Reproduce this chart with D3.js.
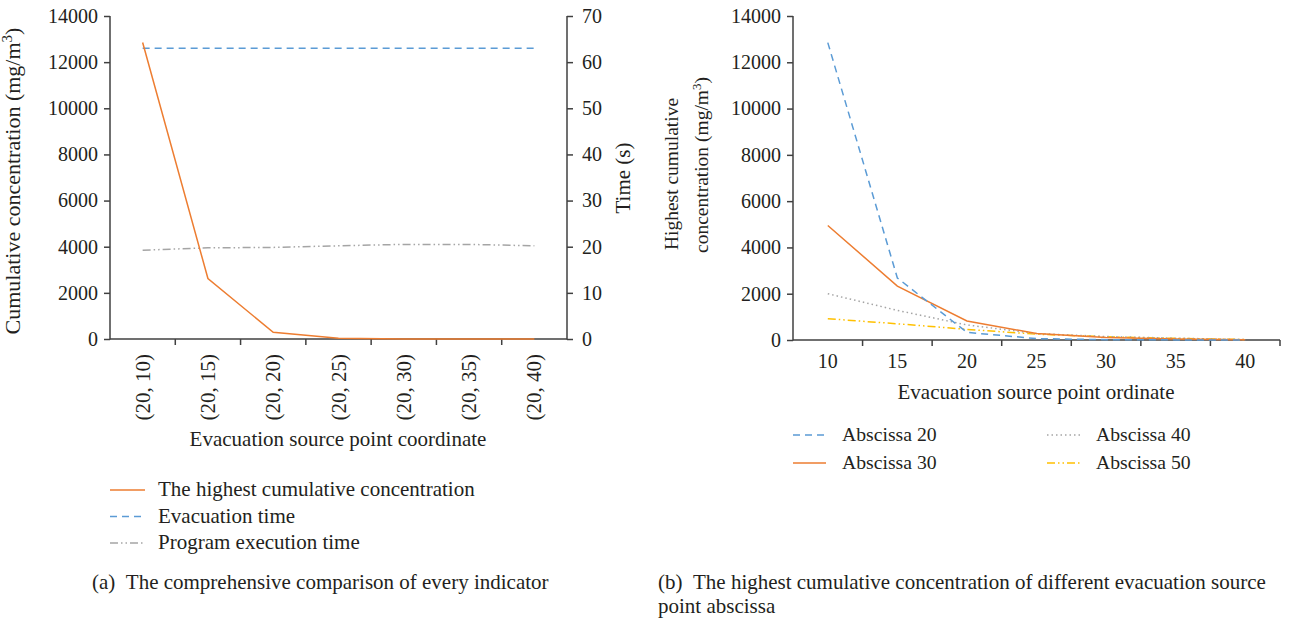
<!DOCTYPE html>
<html><head><meta charset="utf-8">
<script src="https://cdn.jsdelivr.net/npm/d3@7"></script>
<style>
body{margin:0;background:#fff;}
text{font-family:"Liberation Serif","Times New Roman",serif;fill:#231f20;}
</style></head>
<body><svg id="c" width="1290" height="620"></svg>
<script>
// ---- Data (a) ----
const coordCats = ["(20, 10)","(20, 15)","(20, 20)","(20, 25)","(20, 30)","(20, 35)","(20, 40)"];
const highestConc = [12850, 2620, 290, 30, 5, 0, 0];
const evacTime = [63, 63, 63, 63, 63, 63, 63];
const execTime = [19.25, 19.75, 19.85, 20.2, 20.5, 20.5, 20.2];
const leftTicksA = [0,2000,4000,6000,8000,10000,12000,14000];
const rightTicksA = [0,10,20,30,40,50,60,70];
// ---- Data (b) ----
const ordCats = ["10","15","20","25","30","35","40"];
const absc20 = [12850, 2680, 330, 60, 15, 5, 0];
const absc30 = [4950, 2330, 820, 280, 110, 40, 10];
const absc40 = [2000, 1280, 650, 280, 150, 80, 15];
const absc50 = [920, 700, 460, 250, 140, 70, 20];
const ticksB = [0,2000,4000,6000,8000,10000,12000,14000];

const C = {orange:"#ED7D31", blue:"#5B9BD5", gray:"#A5A5A5", yellow:"#FFC000", axis:"#404040"};
const FS = 21;     // general text
const TK = 20;     // tick labels
const svg = d3.select("#c");

function axisLine(g,x1,y1,x2,y2){g.append("line").attr("x1",x1).attr("y1",y1).attr("x2",x2).attr("y2",y2).attr("stroke",C.axis).attr("stroke-width",1.5);}

// ===== Chart (a) =====
{
  const x = d3.scaleBand().domain(coordCats).range([110,567]).padding(0);
  const yL = d3.scaleLinear().domain([0,14000]).range([339,16]);
  const yR = d3.scaleLinear().domain([0,70]).range([339,16]);
  const g = svg.append("g");
  const cx = c => x(c)+x.bandwidth()/2;

  const la = g.append("g").attr("transform","translate(110,0)")
    .call(d3.axisLeft(yL).tickValues(leftTicksA).tickSize(6).tickPadding(6).tickFormat(d3.format("d")));
  const ra = g.append("g").attr("transform","translate(567,0)")
    .call(d3.axisRight(yR).tickValues(rightTicksA).tickSize(6).tickPadding(9).tickFormat(d3.format("d")));
  [la,ra].forEach(a=>{a.select(".domain").remove();a.selectAll("line").attr("stroke",C.axis).attr("stroke-width",1.5);a.selectAll("text").style("font-size",TK+"px").attr("fill","#231f20");});
  axisLine(g,110,16,110,339.5);
  axisLine(g,567,16,567,339.5);
  axisLine(g,110,339,567,339);
  g.selectAll(".ct").data(coordCats.slice(1)).enter().append("line")
    .attr("x1",d=>x(d)).attr("x2",d=>x(d)).attr("y1",339).attr("y2",345).attr("stroke",C.axis).attr("stroke-width",1.5);
  g.selectAll(".cl").data(coordCats).enter().append("text")
    .attr("transform",d=>`translate(${cx(d)+7},354) rotate(-90)`)
    .attr("text-anchor","end").style("font-size",FS+"px").text(d=>d);

  const line = (ys,vals)=>d3.line().x((d,i)=>cx(coordCats[i])).y(d=>ys(d))(vals);
  g.append("path").attr("d",line(yR,execTime)).attr("fill","none").attr("stroke",C.gray).attr("stroke-width",1.5).attr("stroke-dasharray","8,3,1.5,3,1.5,3");
  g.append("path").attr("d",line(yR,evacTime)).attr("fill","none").attr("stroke",C.blue).attr("stroke-width",1.5).attr("stroke-dasharray","7,5");
  g.append("path").attr("d",line(yL,highestConc)).attr("fill","none").attr("stroke",C.orange).attr("stroke-width",1.5);

  const lt = g.append("text").attr("transform","translate(20,181) rotate(-90)").attr("text-anchor","middle").style("font-size","22px");
  lt.append("tspan").text("Cumulative concentration (mg/m");
  lt.append("tspan").attr("dy",-8).style("font-size","15px").text("3");
  lt.append("tspan").attr("dy",8).text(")");
  g.append("text").attr("transform","translate(630,178) rotate(-90)").attr("text-anchor","middle").style("font-size",FS+"px").text("Time (s)");
  g.append("text").attr("x",338).attr("y",446).attr("text-anchor","middle").style("font-size",FS+"px").text("Evacuation source point coordinate");

  const leg = [["The highest cumulative concentration",C.orange,null],["Evacuation time",C.blue,"7,5"],["Program execution time",C.gray,"8,3,1.5,3,1.5,3"]];
  leg.forEach((l,i)=>{
    const yy = 490+i*26.5;
    g.append("line").attr("x1",110).attr("x2",145).attr("y1",yy).attr("y2",yy).attr("stroke",l[1]).attr("stroke-width",1.5).attr("stroke-dasharray",l[2]);
    g.append("text").attr("x",158).attr("y",yy+6).style("font-size",FS+"px").text(l[0]);
  });
  g.append("text").attr("x",92).attr("y",589).style("font-size",FS+"px").text("(a)\u2002The comprehensive comparison of every indicator");
}

// ===== Chart (b) =====
{
  const x = d3.scaleBand().domain(ordCats).range([793,1280]).padding(0);
  const y = d3.scaleLinear().domain([0,14000]).range([340,16]);
  const g = svg.append("g");
  const cx = c => x(c)+x.bandwidth()/2;
  const ya = g.append("g").attr("transform","translate(793,0)")
    .call(d3.axisLeft(y).tickValues(ticksB).tickSize(6).tickPadding(6).tickFormat(d3.format("d")));
  ya.select(".domain").remove();
  ya.selectAll("line").attr("stroke",C.axis).attr("stroke-width",1.5);
  ya.selectAll("text").style("font-size",TK+"px").attr("fill","#231f20");
  axisLine(g,793,16,793,340.5);
  axisLine(g,793,340,1280,340);
  g.selectAll(".ct").data(ordCats.slice(1).concat(["end"])).enter().append("line")
    .attr("x1",d=>d==="end"?1280:x(d)).attr("x2",d=>d==="end"?1280:x(d)).attr("y1",340).attr("y2",346).attr("stroke",C.axis).attr("stroke-width",1.5);
  g.selectAll(".cl").data(ordCats).enter().append("text")
    .attr("x",d=>cx(d)).attr("y",368).attr("text-anchor","middle").style("font-size",TK+"px").text(d=>d);

  const line = vals=>d3.line().x((d,i)=>cx(ordCats[i])).y(d=>y(d))(vals);
  const series = [[absc50,C.yellow,"8,3,1.5,3,1.5,3"],[absc40,C.gray,"1.5,3"],[absc30,C.orange,null],[absc20,C.blue,"7,5"]];
  series.forEach(s=>g.append("path").attr("d",line(s[0])).attr("fill","none").attr("stroke",s[1]).attr("stroke-width",1.5).attr("stroke-dasharray",s[2]));

  g.append("text").attr("transform","translate(678,174) rotate(-90)").attr("text-anchor","middle").style("font-size","19.5px").text("Highest cumulative");
  const t2 = g.append("text").attr("transform","translate(708,165) rotate(-90)").attr("text-anchor","middle").style("font-size","19.5px");
  t2.append("tspan").text("concentration (mg/m");
  t2.append("tspan").attr("dy",-7).style("font-size","13px").text("3");
  t2.append("tspan").attr("dy",7).text(")");
  g.append("text").attr("x",1036).attr("y",399).attr("text-anchor","middle").style("font-size",FS+"px").text("Evacuation source point ordinate");

  const leg = [["Abscissa 20",C.blue,"7,5",793,435],["Abscissa 30",C.orange,null,793,463],["Abscissa 40",C.gray,"1.5,3",1047,435],["Abscissa 50",C.yellow,"8,3,1.5,3,1.5,3",1047,463]];
  leg.forEach(l=>{
    g.append("line").attr("x1",l[3]).attr("x2",l[3]+33).attr("y1",l[4]).attr("y2",l[4]).attr("stroke",l[1]).attr("stroke-width",1.5).attr("stroke-dasharray",l[2]);
    g.append("text").attr("x",l[3]+49).attr("y",l[4]+6).style("font-size","19.7px").text(l[0]);
  });
  g.append("text").attr("x",658).attr("y",589).style("font-size",FS+"px").text("(b)\u2002The highest cumulative concentration of different evacuation source");
  g.append("text").attr("x",658).attr("y",613).style("font-size",FS+"px").text("point abscissa");
}
</script></body></html>
